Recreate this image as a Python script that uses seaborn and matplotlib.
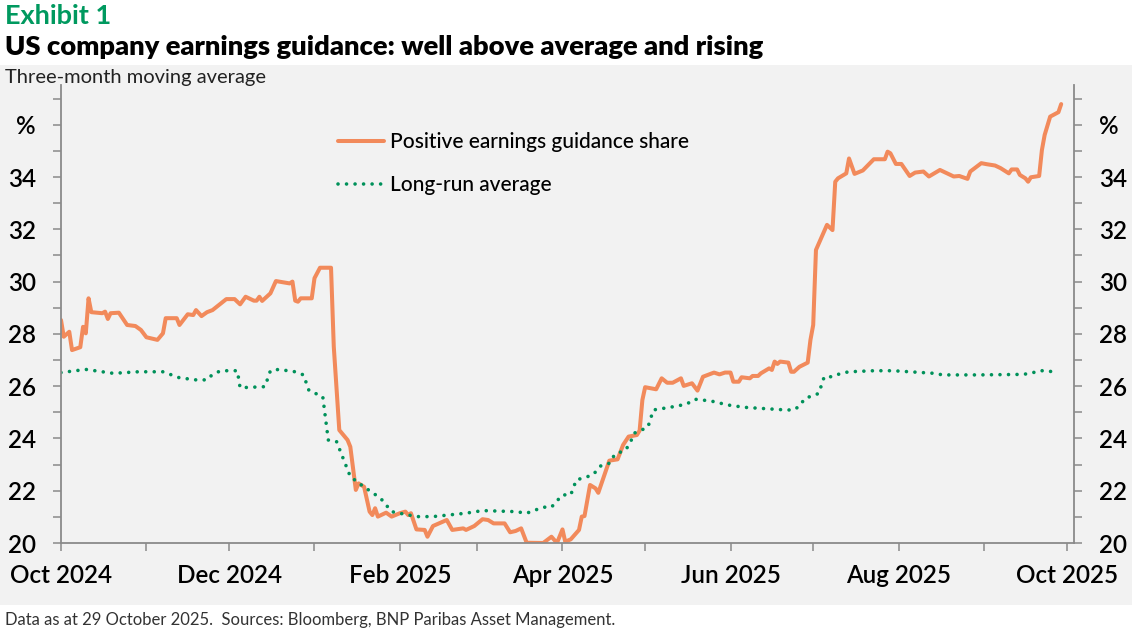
import matplotlib
matplotlib.use("Agg")
import matplotlib.pyplot as plt
import matplotlib.dates as mdates
from matplotlib.patches import Rectangle
import seaborn as sns
import pandas as pd

# ---------------- data ----------------
guidance_dates = [
    "2024-10-01", "2024-10-02", "2024-10-04", "2024-10-05", "2024-10-08", "2024-10-09", "2024-10-10",
    "2024-10-11", "2024-10-12", "2024-10-16", "2024-10-17", "2024-10-18", "2024-10-19", "2024-10-22",
    "2024-10-25", "2024-10-28", "2024-10-30", "2024-11-01", "2024-11-05", "2024-11-07", "2024-11-08",
    "2024-11-12", "2024-11-13", "2024-11-16", "2024-11-18", "2024-11-19", "2024-11-21", "2024-11-23",
    "2024-11-25", "2024-11-30", "2024-12-03", "2024-12-05", "2024-12-07", "2024-12-10", "2024-12-11",
    "2024-12-12", "2024-12-13", "2024-12-16", "2024-12-18", "2024-12-23", "2024-12-24", "2024-12-25",
    "2024-12-26", "2024-12-27", "2024-12-31", "2025-01-01", "2025-01-03", "2025-01-07", "2025-01-08",
    "2025-01-10", "2025-01-13", "2025-01-14", "2025-01-16", "2025-01-17", "2025-01-19", "2025-01-21",
    "2025-01-22", "2025-01-23", "2025-01-24", "2025-01-27", "2025-01-29", "2025-02-01", "2025-02-03",
    "2025-02-04", "2025-02-05", "2025-02-07", "2025-02-10", "2025-02-11", "2025-02-13", "2025-02-18",
    "2025-02-20", "2025-02-24", "2025-02-25", "2025-02-28", "2025-03-03", "2025-03-05", "2025-03-07",
    "2025-03-11", "2025-03-13", "2025-03-15", "2025-03-17", "2025-03-19", "2025-03-25", "2025-03-28",
    "2025-03-30", "2025-04-01", "2025-04-02", "2025-04-04", "2025-04-07", "2025-04-08", "2025-04-09",
    "2025-04-11", "2025-04-13", "2025-04-14", "2025-04-16", "2025-04-18", "2025-04-21", "2025-04-23",
    "2025-04-25", "2025-04-28", "2025-04-29", "2025-04-30", "2025-05-01", "2025-05-05", "2025-05-07",
    "2025-05-09", "2025-05-11", "2025-05-14", "2025-05-15", "2025-05-18", "2025-05-20", "2025-05-22",
    "2025-05-26", "2025-05-28", "2025-05-30", "2025-06-01", "2025-06-02", "2025-06-04", "2025-06-05",
    "2025-06-08", "2025-06-09", "2025-06-11", "2025-06-12", "2025-06-15", "2025-06-16", "2025-06-17",
    "2025-06-18", "2025-06-19", "2025-06-22", "2025-06-23", "2025-06-24", "2025-06-26", "2025-06-29",
    "2025-06-30", "2025-07-01", "2025-07-02", "2025-07-06", "2025-07-08", "2025-07-09", "2025-07-10",
    "2025-07-13", "2025-07-14", "2025-07-16", "2025-07-19", "2025-07-23", "2025-07-27", "2025-07-28",
    "2025-07-29", "2025-07-31", "2025-08-02", "2025-08-05", "2025-08-07", "2025-08-10", "2025-08-12",
    "2025-08-16", "2025-08-21", "2025-08-23", "2025-08-26", "2025-08-27", "2025-08-31", "2025-09-02",
    "2025-09-05", "2025-09-07", "2025-09-10", "2025-09-11", "2025-09-13", "2025-09-14", "2025-09-16",
    "2025-09-17", "2025-09-18", "2025-09-21", "2025-09-22", "2025-09-23", "2025-09-25", "2025-09-28",
    "2025-09-29",
]
guidance_values = [
    28.53, 27.89, 28.08, 27.38, 27.49, 28.27, 28.02,
    29.36, 28.83, 28.79, 28.85, 28.57, 28.79, 28.81,
    28.34, 28.30, 28.15, 27.87, 27.77, 28.02, 28.60,
    28.60, 28.34, 28.75, 28.72, 28.91, 28.68, 28.83,
    28.91, 29.33, 29.33, 29.13, 29.42, 29.27, 29.27,
    29.42, 29.26, 29.55, 30.02, 29.93, 30.00, 29.27,
    29.23, 29.36, 29.36, 30.13, 30.53, 30.53, 27.51,
    24.32, 23.94, 23.68, 22.03, 22.28, 22.15, 21.20,
    21.07, 21.33, 21.01, 21.16, 21.01, 21.14, 21.20,
    21.07, 21.14, 20.52, 20.50, 20.24, 20.65, 20.88,
    20.50, 20.56, 20.50, 20.65, 20.91, 20.88, 20.75,
    20.75, 20.41, 20.46, 20.56, 20.01, 20.00, 20.24,
    20.00, 20.52, 20.05, 20.14, 20.50, 21.01, 21.03,
    22.22, 22.09, 21.92, 22.54, 23.15, 23.20, 23.75,
    24.07, 24.13, 24.30, 25.47, 25.96, 25.88, 26.30,
    26.13, 26.13, 26.30, 26.01, 26.11, 25.83, 26.36,
    26.52, 26.45, 26.52, 26.52, 26.17, 26.17, 26.34,
    26.30, 26.39, 26.39, 26.49, 26.68, 26.62, 26.94,
    26.85, 26.94, 26.90, 26.55, 26.55, 26.74, 26.90,
    27.77, 28.34, 31.21, 32.17, 31.97, 33.82, 33.95,
    34.14, 34.71, 34.12, 34.25, 34.68, 34.68, 34.97,
    34.91, 34.50, 34.50, 34.04, 34.17, 34.21, 34.02,
    34.27, 34.02, 34.04, 33.93, 34.21, 34.53, 34.49,
    34.44, 34.34, 34.14, 34.29, 34.29, 34.08, 33.95,
    33.82, 33.99, 34.04, 35.03, 35.61, 36.31, 36.48,
    36.79,
]

average_dates = [
    "2024-10-01", "2024-10-10", "2024-10-20", "2024-10-29", "2024-11-07", "2024-11-13", "2024-11-19",
    "2024-11-23", "2024-11-25", "2024-11-28", "2024-12-04", "2024-12-05", "2024-12-14", "2024-12-16",
    "2024-12-19", "2024-12-25", "2024-12-28", "2024-12-30", "2025-01-04", "2025-01-06", "2025-01-09",
    "2025-01-14", "2025-01-18", "2025-01-25", "2025-01-29", "2025-02-07", "2025-02-13", "2025-02-25",
    "2025-03-03", "2025-03-15", "2025-03-19", "2025-03-25", "2025-03-28", "2025-03-30", "2025-04-01",
    "2025-04-04", "2025-04-05", "2025-04-06", "2025-04-12", "2025-04-15", "2025-04-18", "2025-04-20",
    "2025-04-24", "2025-04-26", "2025-04-27", "2025-05-02", "2025-05-04", "2025-05-10", "2025-05-16",
    "2025-05-19", "2025-05-25", "2025-05-31", "2025-06-06", "2025-06-12", "2025-06-21", "2025-06-24",
    "2025-06-26", "2025-06-28", "2025-07-03", "2025-07-04", "2025-07-05", "2025-07-08", "2025-07-11",
    "2025-07-14", "2025-07-23", "2025-07-30", "2025-08-08", "2025-08-14", "2025-08-17", "2025-08-30",
    "2025-09-15", "2025-09-18", "2025-09-21", "2025-09-24", "2025-09-27",
]
average_values = [
    26.52, 26.64, 26.49, 26.55, 26.55, 26.32, 26.24,
    26.24, 26.45, 26.59, 26.59, 25.94, 25.98, 26.59,
    26.64, 26.55, 26.43, 25.83, 25.60, 23.94, 23.88,
    22.54, 22.22, 21.71, 21.20, 21.01, 21.01, 21.14,
    21.24, 21.20, 21.14, 21.37, 21.37, 21.61, 21.84,
    21.84, 22.12, 22.41, 22.60, 22.96, 23.05, 23.39,
    23.56, 23.94, 24.20, 24.43, 25.09, 25.19, 25.31,
    25.50, 25.43, 25.28, 25.19, 25.15, 25.09, 25.09,
    25.24, 25.53, 25.72, 26.04, 26.36, 26.36, 26.49,
    26.55, 26.59, 26.59, 26.53, 26.49, 26.43, 26.43,
    26.45, 26.49, 26.59, 26.59, 26.52,
]

series_names = ["Positive earnings guidance share", "Long-run average"]
y_tick_values = [20, 22, 24, 26, 28, 30, 32, 34, 36]
y_tick_labels = ["20", "22", "24", "26", "28", "30", "32", "34", "%"]

title_tag = "Exhibit 1"
title_text = "US company earnings guidance: well above average and rising"
subtitle_text = "Three-month moving average"
footer_text = "Data as at 29 October 2025.  Sources: Bloomberg, BNP Paribas Asset Management."

# ---------------- styling ----------------
ORANGE = "#F28A5B"
GREEN = "#00915A"
TAG_GREEN = "#00995F"
SPINE = "#8a8a8a"
BG = "#f2f2f2"

sns.set_theme(style="white")
plt.rcParams["font.family"] = ["Lato", "DejaVu Sans"]

df_g = pd.DataFrame({"date": pd.to_datetime(guidance_dates), "value": guidance_values})
df_a = pd.DataFrame({"date": pd.to_datetime(average_dates), "value": average_values})

W, H = 1132, 632
fig = plt.figure(figsize=(W / 100, H / 100), dpi=100)
fig.patch.set_facecolor("white")
fig.patches.append(Rectangle((0, (H - 605) / H), 1, (605 - 65) / H,
                             transform=fig.transFigure, facecolor=BG, edgecolor="none", zorder=-5))

ax = fig.add_axes([61 / W, (H - 543) / H, (1074 - 61) / W, (543 - 85) / H])
ax.set_facecolor("none")

sns.lineplot(data=df_g, x="date", y="value", ax=ax, color=ORANGE, linewidth=2.9,
             label=series_names[0], solid_joinstyle="round", solid_capstyle="round")
sns.lineplot(data=df_a, x="date", y="value", ax=ax, color=GREEN, linewidth=2.6,
             linestyle=(0, (0.01, 2.35)), dash_capstyle="round", label=series_names[1])

ax.set_xlim(pd.Timestamp("2024-10-01"), pd.Timestamp("2025-10-01") + pd.Timedelta(days=2.65))
ax.set_ylim(20, 37.52)
ax.set_xlabel("")
ax.set_ylabel("")

ax.xaxis.set_major_locator(mdates.MonthLocator(bymonth=[2, 4, 6, 8, 10, 12]))
ax.xaxis.set_minor_locator(mdates.MonthLocator(bymonth=[1, 3, 5, 7, 9, 11]))
ax.xaxis.set_major_formatter(mdates.DateFormatter("%b %Y"))

ax2 = ax.twinx()
ax2.set_ylim(ax.get_ylim())
ax2.set_facecolor("none")
for a in (ax, ax2):
    a.set_yticks(y_tick_values)
    a.set_yticklabels(y_tick_labels)
    a.set_yticks([v + 1 for v in y_tick_values], minor=True)
    for s in a.spines.values():
        s.set_visible(False)

ax.spines["left"].set_visible(True)
ax.spines["bottom"].set_visible(True)
ax2.spines["right"].set_visible(True)
for s in (ax.spines["left"], ax.spines["bottom"], ax2.spines["right"]):
    s.set_color(SPINE)
    s.set_linewidth(1.3)

ax.tick_params(axis="y", which="both", left=True, right=False, direction="out", length=6,
               width=1.1, color=SPINE, labelsize=17.5, labelcolor="black", pad=12)
ax2.tick_params(axis="y", which="both", right=True, left=False, direction="out", length=6,
                width=1.1, color=SPINE, labelsize=17.5, labelcolor="black", pad=12)
ax.tick_params(axis="x", which="both", bottom=True, direction="out", length=6,
               width=1.1, color=SPINE, labelsize=17.5, labelcolor="black", pad=9)
for lbl in ax.get_xticklabels() + ax.get_yticklabels() + ax2.get_yticklabels():
    lbl.set_fontweight("semibold")

leg = ax.legend(loc="upper left", bbox_to_anchor=(338 / W, (H - 132) / H),
                bbox_transform=fig.transFigure, frameon=False,
                prop={"size": 15, "weight": "medium"},
                handlelength=2.2, handletextpad=0.3, labelspacing=1.1,
                borderpad=0, borderaxespad=0)
for t in leg.get_texts():
    t.set_color("black")

fig.text(5 / W, (H - 16) / H, title_tag, color=TAG_GREEN, fontsize=19.5, weight="bold", va="center")
fig.text(5 / W, (H - 47) / H, title_text, color="black", fontsize=19.7, weight="heavy", va="center")
fig.text(5 / W, (H - 77) / H, subtitle_text, color="#222222", fontsize=14.5, va="center")
fig.text(5 / W, (H - 620) / H, footer_text, color="#333333", fontsize=12, va="center")

fig.savefig("out.png", dpi=100, facecolor="white")
